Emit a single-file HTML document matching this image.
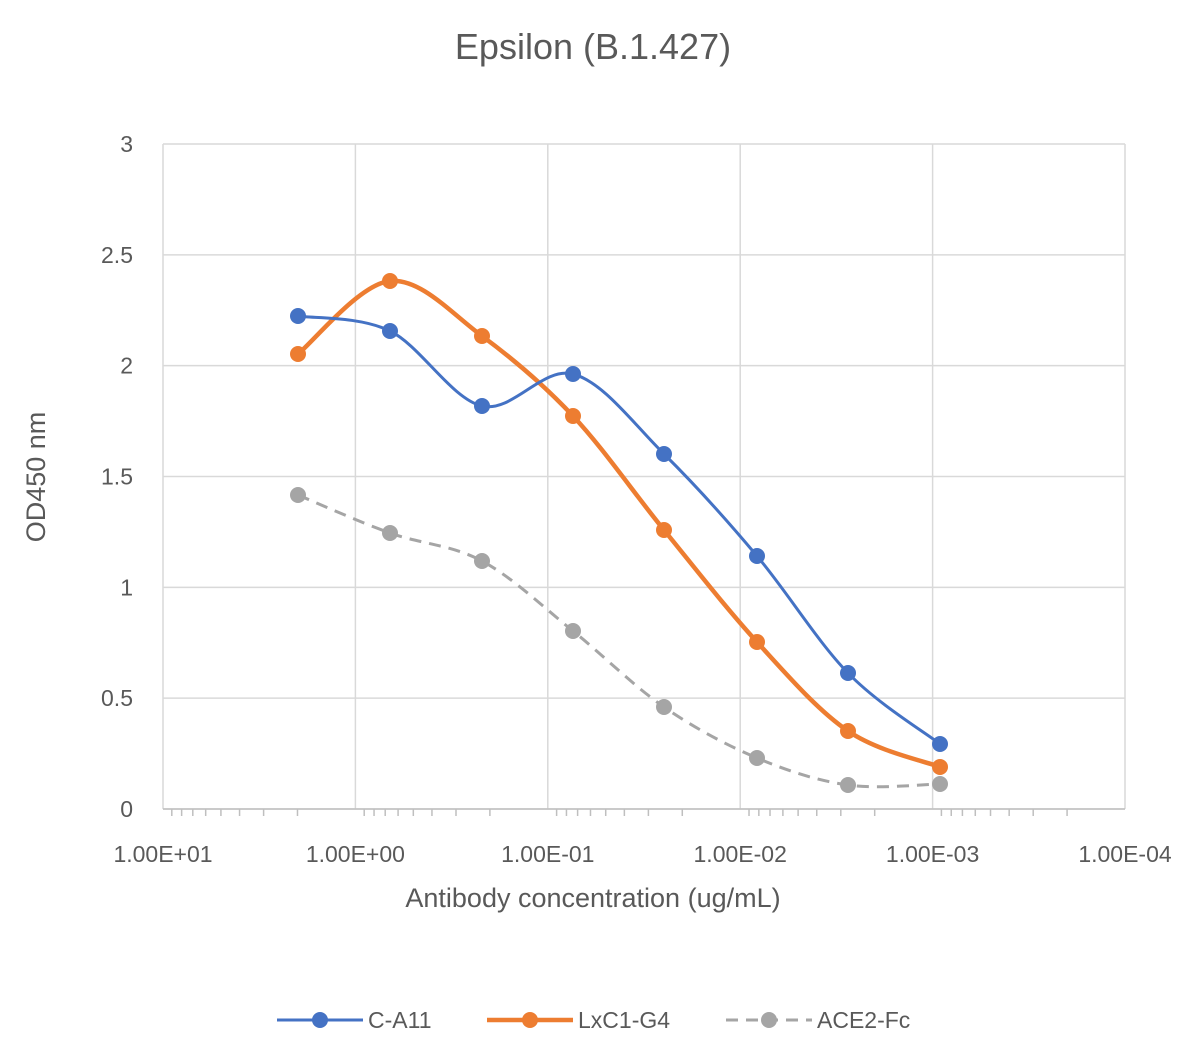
<!DOCTYPE html>
<html><head><meta charset="utf-8"><style>
html,body{margin:0;padding:0;background:#fff;}
svg{display:block;font-family:"Liberation Sans",sans-serif;}
</style></head><body>
<svg id="s" width="1202" height="1060" viewBox="0 0 1202 1060">
<rect width="1202" height="1060" fill="#fff"/>
<text x="593" y="59" text-anchor="middle" font-size="36" fill="#595959">Epsilon (B.1.427)</text>
<g id="grid" stroke="#d9d9d9" stroke-width="1.5"></g>
<g id="ylab" font-size="23" fill="#595959" text-anchor="end"></g>
<g id="xlab" font-size="23" fill="#595959" text-anchor="middle"></g>
<text x="593" y="907" text-anchor="middle" font-size="27" fill="#595959">Antibody concentration (ug/mL)</text>
<text transform="translate(45,477) rotate(-90)" text-anchor="middle" font-size="27" fill="#595959">OD450 nm</text>
<g id="series"></g>
<g font-size="23" fill="#595959">
<line x1="277" y1="1020" x2="363" y2="1020" stroke="#4472c4" stroke-width="3"/><circle cx="320" cy="1020" r="8" fill="#4472c4"/><text x="368" y="1028">C-A11</text>
<line x1="487" y1="1020" x2="573" y2="1020" stroke="#ed7d31" stroke-width="4.5"/><circle cx="530" cy="1020" r="8" fill="#ed7d31"/><text x="578" y="1028">LxC1-G4</text>
<line x1="726" y1="1020" x2="812" y2="1020" stroke="#a5a5a5" stroke-width="3" stroke-dasharray="12,8"/><circle cx="769" cy="1020" r="8" fill="#a5a5a5"/><text x="817" y="1028">ACE2-Fc</text>
</g>
</svg>
<script>
var NS="http://www.w3.org/2000/svg";
function el(p,t,a,txt){var e=document.createElementNS(NS,t);for(var k in a)e.setAttribute(k,a[k]);if(txt)e.textContent=txt;p.appendChild(e);return e;}
var g=document.getElementById("grid"),yl=document.getElementById("ylab"),xl=document.getElementById("xlab"),s=document.getElementById("series");
var x0=163,x1=1125,y0=809,y3=144,dec=(x1-x0)/5;
var labs=["3","2.5","2","1.5","1","0.5","0"];
for(var i=0;i<7;i++){var y=y3+i*(y0-y3)/6;el(g,"line",{x1:x0,x2:x1,y1:y,y2:y});el(yl,"text",{x:133,y:y+8},labs[i]);}
var xls=["1.00E+01","1.00E+00","1.00E-01","1.00E-02","1.00E-03","1.00E-04"];
for(var d=0;d<=5;d++){var x=x0+d*dec;el(g,"line",{x1:x,x2:x,y1:y3,y2:y0});el(xl,"text",{x:x,y:862},xls[d]);
 if(d<5)for(var v=2;v<=9;v++){var xx=x+(1-Math.log10(v))*dec;el(g,"line",{x1:xx,x2:xx,y1:y0,y2:y0+7,stroke:"#bfbfbf"});}}
el(g,"line",{x1:x0,x2:x1,y1:y0,y2:y0,stroke:"#bfbfbf"});
function path(p){var d="M"+p[0][0]+","+p[0][1];for(var i=0;i<p.length-1;i++){var a=p[i-1]||p[i],b=p[i],c=p[i+1],e=p[i+2]||c;var t=6;
 d+=" C"+(b[0]+(c[0]-a[0])/t)+","+(b[1]+(c[1]-a[1])/t)+" "+(c[0]-(e[0]-b[0])/t)+","+(c[1]-(e[1]-b[1])/t)+" "+c[0]+","+c[1];}return d;}
var xs=[298,390,482,573,664,757,848,940];
var S=[
 {c:"#a5a5a5",w:3,da:"12,8",y:[495,533,561,631,707,758,785,784]},
 {c:"#ed7d31",w:4.5,y:[354,281,336,416,530,642,731,767]},
 {c:"#4472c4",w:3,y:[316,331,406,374,454,556,673,744]}];
S.forEach(function(o){var p=xs.map(function(x,i){return[x,o.y[i]];});
 var a={d:path(p),fill:"none",stroke:o.c,"stroke-width":o.w};if(o.da)a["stroke-dasharray"]=o.da;el(s,"path",a);
 p.forEach(function(q){el(s,"circle",{cx:q[0],cy:q[1],r:8,fill:o.c});});});
</script>
</body></html>
